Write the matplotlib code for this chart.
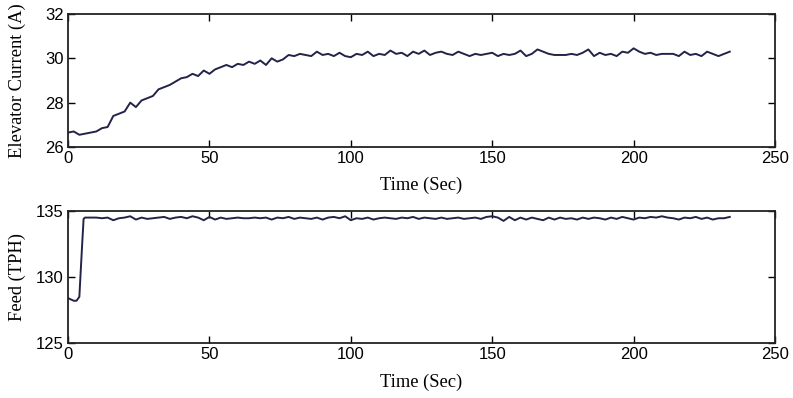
import numpy as np
import matplotlib.pyplot as plt

# ---------------- data ----------------
t_cur = list(range(0, 236, 2))
current = [26.65, 26.7, 26.55, 26.6, 26.65, 26.7, 26.85, 26.9, 27.4, 27.5,
           27.6, 28.0, 27.8, 28.1, 28.2, 28.3, 28.6, 28.7, 28.8, 28.95,
           29.1, 29.15, 29.3, 29.2, 29.45, 29.3, 29.5, 29.6, 29.7, 29.6,
           29.75, 29.7, 29.85, 29.75, 29.9, 29.7, 30.0, 29.85, 29.95, 30.15,
           30.1, 30.2, 30.15, 30.1, 30.3, 30.15, 30.2, 30.1, 30.25, 30.1,
           30.05, 30.2, 30.15, 30.3, 30.1, 30.2, 30.15, 30.35, 30.2, 30.25,
           30.1, 30.3, 30.2, 30.35, 30.15, 30.25, 30.3, 30.2, 30.15, 30.3,
           30.2, 30.1, 30.2, 30.15, 30.2, 30.25, 30.1, 30.2, 30.15, 30.2,
           30.35, 30.1, 30.2, 30.4, 30.3, 30.2, 30.15, 30.15, 30.15, 30.2,
           30.15, 30.25, 30.4, 30.1, 30.25, 30.15, 30.2, 30.1, 30.3, 30.25,
           30.45, 30.3, 30.2, 30.25, 30.15, 30.2, 30.2, 30.2, 30.1, 30.3,
           30.15, 30.2, 30.1, 30.3, 30.2, 30.1, 30.2, 30.3]

t_feed = [0, 1, 2, 3, 4, 4.5, 5, 5.5] + list(range(6, 236, 2))
feed = [128.4, 128.3, 128.2, 128.2, 128.5, 130.5, 132.5, 134.4,
        134.5, 134.5, 134.5, 134.45, 134.5, 134.3, 134.45, 134.5, 134.6, 134.35,
        134.5, 134.4, 134.45, 134.5, 134.55, 134.4, 134.5, 134.55, 134.45, 134.6,
        134.5, 134.3, 134.55, 134.35, 134.5, 134.4, 134.45, 134.5, 134.45, 134.45,
        134.5, 134.45, 134.5, 134.35, 134.5, 134.45, 134.55, 134.4, 134.5, 134.45,
        134.4, 134.5, 134.35, 134.5, 134.55, 134.45, 134.6, 134.3, 134.45, 134.4,
        134.5, 134.35, 134.45, 134.5, 134.45, 134.4, 134.5, 134.45, 134.55, 134.4,
        134.5, 134.45, 134.4, 134.5, 134.4, 134.45, 134.5, 134.4, 134.45, 134.5,
        134.4, 134.55, 134.6, 134.5, 134.25, 134.55, 134.3, 134.5, 134.35, 134.5,
        134.4, 134.3, 134.5, 134.35, 134.5, 134.4, 134.45, 134.35, 134.5, 134.4,
        134.5, 134.45, 134.35, 134.5, 134.4, 134.55, 134.45, 134.35, 134.5, 134.45,
        134.55, 134.5, 134.6, 134.5, 134.45, 134.35, 134.5, 134.45, 134.55, 134.4,
        134.5, 134.35, 134.45, 134.45, 134.55]

x_ticks = [0, 50, 100, 150, 200, 250]
line_col = "#23234a"

# ---------------- figure ----------------
fig = plt.figure(figsize=(7.93, 3.98), dpi=100)
ax1 = fig.add_axes([0.0858, 0.6307, 0.8915, 0.3342])
ax2 = fig.add_axes([0.0858, 0.1382, 0.8915, 0.3317])

panels = [
    (ax1, t_cur, current, (26, 32), [26, 28, 30, 32], "Elevator Current (A)", -0.225),
    (ax2, t_feed, feed, (125, 135), [125, 130, 135], "Feed (TPH)", -0.23),
]

for ax, tx, ty, ylim, yt, ylab, xl_y in panels:
    ax.plot(tx, ty, color=line_col, linewidth=1.4)
    ax.set_xlim(0, 250)
    ax.set_ylim(*ylim)
    ax.set_xticks(x_ticks)
    ax.set_yticks(yt)
    ax.tick_params(direction="in", top=True, right=True, length=5, width=1.0,
                   labelsize=12, pad=3)
    for lab in ax.get_xticklabels() + ax.get_yticklabels():
        lab.set_family("Liberation Sans")
    for s in ax.spines.values():
        s.set_linewidth(1.3)
        s.set_color("#222222")
    ax.set_xlabel("Time (Sec)", family="Liberation Serif", fontsize=13.3)
    ax.set_ylabel(ylab, family="Liberation Serif", fontsize=13.3)
    ax.xaxis.set_label_coords(0.5, xl_y)
    ax.yaxis.set_label_coords(-0.06, 0.5)

fig.savefig("out.png", dpi=100)
